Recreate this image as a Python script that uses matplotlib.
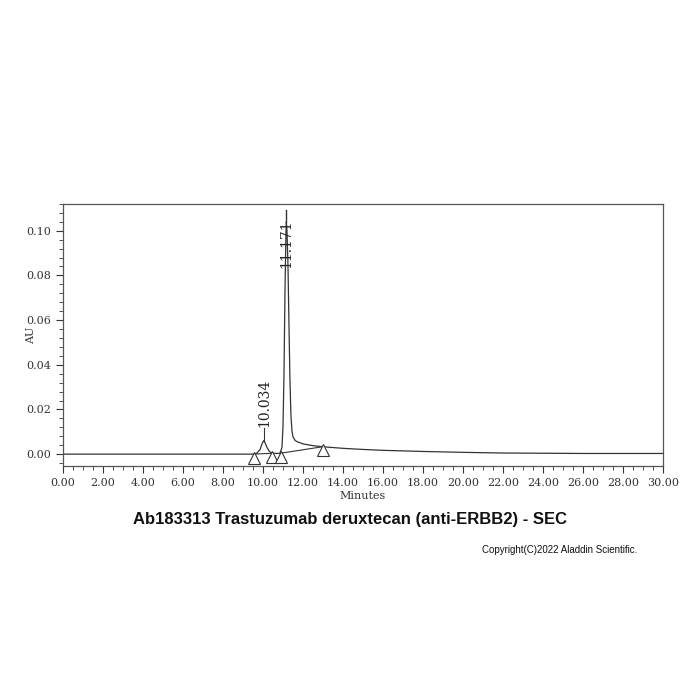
import matplotlib
matplotlib.use("Agg")
import matplotlib.pyplot as plt
from matplotlib.ticker import MultipleLocator, FormatStrFormatter

# ---- data ----
minutes = [0.0, 2.0, 4.0, 6.0, 8.0, 9.0, 9.55, 9.7, 9.85, 9.95, 10.03, 10.1, 10.2, 10.3,
           10.4, 10.5, 10.7, 10.85, 10.95, 11.0, 11.05, 11.1, 11.15, 11.17, 11.2, 11.25,
           11.3, 11.35, 11.4, 11.45, 11.5, 11.6, 11.7, 12.0, 12.5, 13.0, 14.0, 15.0, 16.0,
           18.0, 20.0, 22.0, 24.0, 26.0, 28.0, 30.0]
au = [0.0, 0.0, 0.0, 0.0, 0.0, 0.0, 0.0, 0.0005, 0.002, 0.0045, 0.006, 0.0052, 0.003, 0.0015,
      0.0007, 0.0004, 0.0003, 0.0004, 0.003, 0.012, 0.035, 0.072, 0.099, 0.104, 0.1, 0.085,
      0.058, 0.033, 0.017, 0.0105, 0.0078, 0.0062, 0.0056, 0.0046, 0.0038, 0.0033, 0.0026,
      0.0021, 0.0017, 0.0012, 0.0008, 0.0005, 0.0004, 0.0003, 0.0003, 0.0003]

peak_times = [10.034, 11.171]
peak_labels = ["10.034", "11.171"]
peak_heights = [0.006, 0.104]

# integration baselines (start, end) with their levels
base_x = [[9.55, 10.47], [10.88, 12.98]]
base_y = [[0.0, 0.0004], [0.0004, 0.0033]]
marker_x = [9.55, 10.47, 10.88, 12.98]
marker_y = [0.0, 0.0004, 0.0004, 0.0033]

title = "Ab183313 Trastuzumab deruxtecan (anti-ERBB2) - SEC"
copyright_txt = "Copyright(C)2022 Aladdin Scientific."

fig = plt.figure(figsize=(7, 7), dpi=100)
ax = fig.add_axes([0.09, 0.334, 0.857, 0.375])

lc = "#333333"
ax.plot(minutes, au, color=lc, lw=0.9)
for bx, by in zip(base_x, base_y):
    ax.plot(bx, by, color=lc, lw=0.8)
ax.plot(marker_x, [y - 0.0016 for y in marker_y], linestyle="none", marker="^",
        markersize=8, markerfacecolor="white", markeredgecolor=lc, markeredgewidth=0.8)

# peak labels
ax.plot([peak_times[0] + 0.01, peak_times[0] + 0.01], [peak_heights[0], 0.0115], color=lc, lw=0.8)
ax.text(peak_times[0] + 0.01, 0.0122, peak_labels[0], rotation=90, ha="center", va="bottom",
        fontsize=10, family="DejaVu Serif", color="#222222")
ax.plot([peak_times[1], peak_times[1]], [peak_heights[1], 0.1095], color=lc, lw=1.0)
ax.text(peak_times[1], 0.094, peak_labels[1], rotation=90, ha="center", va="center",
        fontsize=10, family="DejaVu Serif", color="#222222")

ax.set_xlim(0, 30)
ax.set_ylim(-0.0054, 0.1121)
ax.xaxis.set_major_locator(MultipleLocator(2))
ax.xaxis.set_minor_locator(MultipleLocator(0.5))
ax.yaxis.set_major_locator(MultipleLocator(0.02))
ax.yaxis.set_minor_locator(MultipleLocator(0.004))
ax.xaxis.set_major_formatter(FormatStrFormatter("%.2f"))
ax.yaxis.set_major_formatter(FormatStrFormatter("%.2f"))
ax.tick_params(axis="both", which="major", direction="out", length=5, width=0.8,
               labelsize=8, colors="#333333")
ax.tick_params(axis="both", which="minor", direction="out", length=3, width=0.6, colors="#333333")
for lab in ax.get_xticklabels() + ax.get_yticklabels():
    lab.set_family("DejaVu Serif")
for s in ax.spines.values():
    s.set_color("#555555")
    s.set_linewidth(0.9)

ax.set_xlabel("Minutes", fontsize=8, family="DejaVu Serif", color="#333333", labelpad=2)
ax.yaxis.set_label_coords(-0.045, 0.5)
ax.set_ylabel("AU", fontsize=8, family="DejaVu Serif", color="#333333")

fig.text(0.5, 0.258, title, ha="center", va="center", fontsize=12, fontweight="bold",
         family="Liberation Sans", color="#111111")
fig.text(0.91, 0.214, copyright_txt, ha="right", va="center", fontsize=7,
         family="Liberation Sans", color="#111111")

fig.savefig("out.png", dpi=100, facecolor="white")
